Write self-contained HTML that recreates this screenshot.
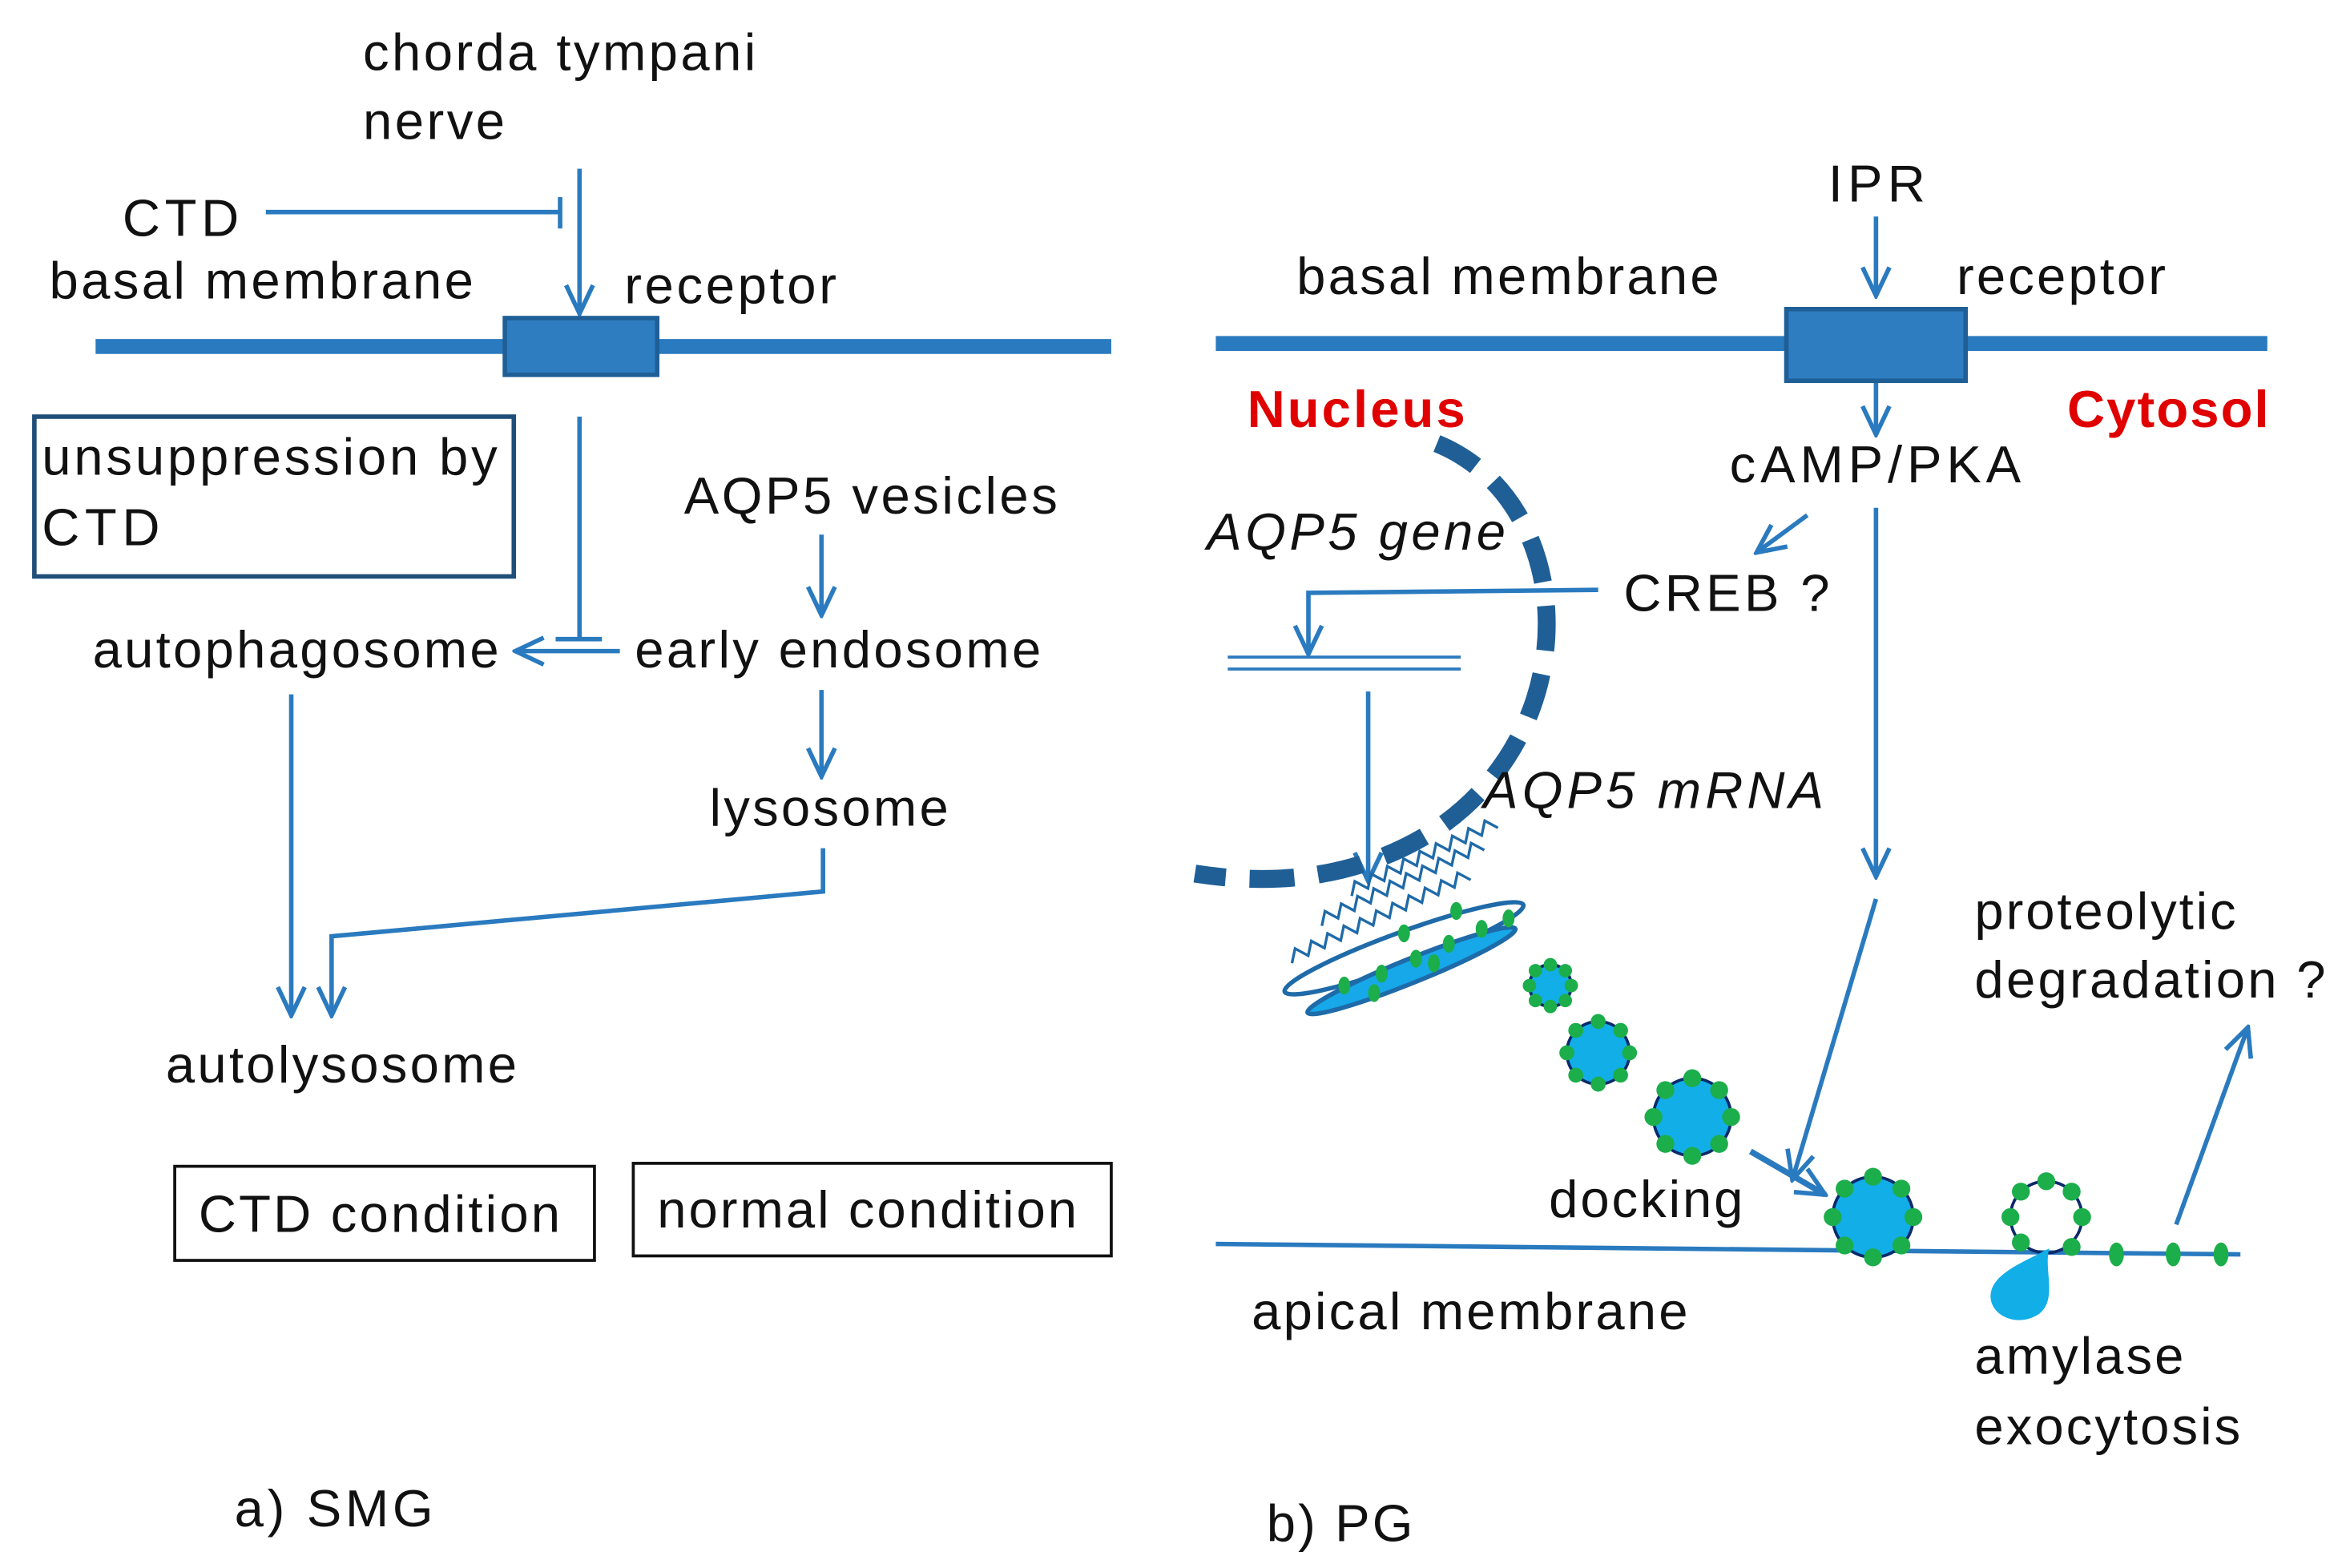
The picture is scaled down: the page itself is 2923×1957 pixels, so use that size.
<!DOCTYPE html>
<html><head><meta charset="utf-8"><style>
html,body{margin:0;padding:0;background:#fff}
svg{display:block}
text{font-family:"Liberation Sans",sans-serif;font-size:35px;fill:#111}
</style></head><body>
<svg width="2923" height="1957" viewBox="0 0 1568 1050" preserveAspectRatio="none" xmlns="http://www.w3.org/2000/svg">
<defs>
<marker id="b" markerWidth="22" markerHeight="22" refX="20" refY="11" orient="auto" markerUnits="userSpaceOnUse" viewBox="0 0 22 22">
<path d="M1,2 L20,11 L1,20" fill="none" stroke="#2a7abf" stroke-width="3"/></marker>
</defs>
<g stroke="#2a7abf" stroke-width="3" fill="none">
<line x1="178" y1="142" x2="375" y2="142"/><line x1="375" y1="132" x2="375" y2="153"/>
<line x1="388" y1="113" x2="388" y2="210" marker-end="url(#b)"/>
<line x1="388" y1="279" x2="388" y2="428"/><line x1="372" y1="428" x2="403" y2="428"/>
<line x1="415" y1="436" x2="345" y2="436" marker-end="url(#b)"/>
<line x1="550" y1="358" x2="550" y2="412" marker-end="url(#b)"/>
<line x1="550" y1="462" x2="550" y2="520" marker-end="url(#b)"/>
<polyline points="551,568 551,597 222,627 222,680" marker-end="url(#b)"/>
<line x1="195" y1="465" x2="195" y2="680" marker-end="url(#b)"/>
<line x1="1256" y1="145" x2="1256" y2="198" marker-end="url(#b)"/>
<line x1="1256" y1="255" x2="1256" y2="291" marker-end="url(#b)"/>
<line x1="1210" y1="345" x2="1176" y2="370" marker-end="url(#b)"/>
<polyline points="1070,395 876,397 876,438" marker-end="url(#b)"/>
<line x1="822" y1="440" x2="978" y2="440" stroke-width="2"/><line x1="822" y1="448" x2="978" y2="448" stroke-width="2"/>
<line x1="916" y1="463" x2="916" y2="590" marker-end="url(#b)"/>
<line x1="1256" y1="340" x2="1256" y2="587" marker-end="url(#b)"/>
<line x1="1256" y1="602" x2="1200" y2="790" marker-end="url(#b)"/>
<line x1="1172" y1="771" x2="1222" y2="800" stroke-width="4" marker-end="url(#b)"/>
<line x1="1457" y1="820" x2="1505" y2="688" marker-end="url(#b)"/>
<line x1="814" y1="833" x2="1500" y2="840" stroke-width="3"/>
</g>
<line x1="64" y1="232" x2="744" y2="232" stroke="#2a7abf" stroke-width="10"/>
<rect x="338" y="213" width="102" height="38" fill="#2e7dc0" stroke="#1f5f96" stroke-width="3"/>
<line x1="814" y1="230" x2="1518" y2="230" stroke="#2a7abf" stroke-width="10"/>
<rect x="1196" y="207" width="120" height="48" fill="#2e7dc0" stroke="#1f5f96" stroke-width="3"/>
<rect x="23" y="279" width="321" height="107" fill="none" stroke="#1f4e79" stroke-width="3"/>
<rect x="117" y="781" width="281" height="63" fill="none" stroke="#111" stroke-width="2"/>
<rect x="424" y="779" width="320" height="62" fill="none" stroke="#111" stroke-width="2"/>
<path d="M962 297 C1055 335 1065 485 962 555 C905 592 845 592 800 585" fill="none" stroke="#1f5f96" stroke-width="12" stroke-dasharray="30 16"/>
<g fill="none" stroke="#1f6aa8" stroke-width="3">
<ellipse cx="940" cy="635" rx="85" ry="11" transform="rotate(-20 940 635)"/>
<ellipse cx="945" cy="650" rx="75" ry="8" transform="rotate(-22 945 650)" fill="#16a8e8"/>
<path d="M865 645 l6 -8 l6 8 l6 -8 l6 8 l6 -8 l6 8 l6 -8 l6 8 l6 -8 l6 8 l6 -8 l6 8 l6 -8 l6 8 l6 -8 l6 8 l6 -8 l6 8 l6 -8 l6 8 l6 -8 l6 8" transform="rotate(-25 865 645)" stroke-width="1.8"/>
<path d="M885 620 l6 -8 l6 8 l6 -8 l6 8 l6 -8 l6 8 l6 -8 l6 8 l6 -8 l6 8 l6 -8 l6 8 l6 -8 l6 8 l6 -8 l6 8 l6 -8 l6 8 l6 -8 l6 8" transform="rotate(-25 885 620)" stroke-width="1.8"/>
<path d="M905 600 l6 -8 l6 8 l6 -8 l6 8 l6 -8 l6 8 l6 -8 l6 8 l6 -8 l6 8 l6 -8 l6 8 l6 -8 l6 8 l6 -8 l6 8 l6 -8 l6 8" transform="rotate(-25 905 600)" stroke-width="1.8"/>
</g>
<g fill="#1cae4a">
<ellipse cx="900" cy="660" rx="4" ry="6"/><ellipse cx="925" cy="652" rx="4" ry="6"/><ellipse cx="948" cy="642" rx="4" ry="6"/><ellipse cx="970" cy="632" rx="4" ry="6"/><ellipse cx="992" cy="622" rx="4" ry="6"/><ellipse cx="1010" cy="615" rx="4" ry="6"/><ellipse cx="920" cy="665" rx="4" ry="6"/><ellipse cx="960" cy="645" rx="4" ry="6"/><ellipse cx="940" cy="625" rx="4" ry="6"/><ellipse cx="975" cy="610" rx="4" ry="6"/>
</g>
<g stroke="#0b2a6b" stroke-width="2" fill="#11aee8">
<circle cx="1038" cy="660" r="14"/><circle cx="1070" cy="705" r="21"/><circle cx="1133" cy="748" r="26"/><circle cx="1254" cy="815" r="27"/>
<circle cx="1370" cy="815" r="24" fill="none"/>
</g>
<g fill="#1cae4a">
<circle cx="1038" cy="646" r="4.5"/><circle cx="1038" cy="674" r="4.5"/><circle cx="1024" cy="660" r="4.5"/><circle cx="1052" cy="660" r="4.5"/><circle cx="1028" cy="650" r="4.5"/><circle cx="1048" cy="650" r="4.5"/><circle cx="1028" cy="670" r="4.5"/><circle cx="1048" cy="670" r="4.5"/>
<circle cx="1070" cy="684" r="5"/><circle cx="1070" cy="726" r="5"/><circle cx="1049" cy="705" r="5"/><circle cx="1091" cy="705" r="5"/><circle cx="1055" cy="690" r="5"/><circle cx="1085" cy="690" r="5"/><circle cx="1055" cy="720" r="5"/><circle cx="1085" cy="720" r="5"/>
<circle cx="1133" cy="722" r="6"/><circle cx="1133" cy="774" r="6"/><circle cx="1107" cy="748" r="6"/><circle cx="1159" cy="748" r="6"/><circle cx="1115" cy="730" r="6"/><circle cx="1151" cy="730" r="6"/><circle cx="1115" cy="766" r="6"/><circle cx="1151" cy="766" r="6"/>
<circle cx="1254" cy="788" r="6"/><circle cx="1254" cy="842" r="6"/><circle cx="1227" cy="815" r="6"/><circle cx="1281" cy="815" r="6"/><circle cx="1235" cy="796" r="6"/><circle cx="1273" cy="796" r="6"/><circle cx="1235" cy="834" r="6"/><circle cx="1273" cy="834" r="6"/>
<circle cx="1370" cy="791" r="6"/><circle cx="1346" cy="815" r="6"/><circle cx="1394" cy="815" r="6"/><circle cx="1353" cy="798" r="6"/><circle cx="1387" cy="798" r="6"/><circle cx="1353" cy="832" r="6"/><circle cx="1387" cy="835" r="6"/>
<ellipse cx="1417" cy="840" rx="5" ry="8"/><ellipse cx="1455" cy="840" rx="5" ry="8"/><ellipse cx="1487" cy="840" rx="5" ry="8"/>
</g>
<path d="M1372 836 C1368 850 1378 870 1365 880 C1350 890 1330 880 1333 865 C1336 852 1355 845 1372 836 Z" fill="#11aee8"/>
<g lengthAdjust="spacingAndGlyphs">
<text x="243" y="47" textLength="263">chorda tympani</text>
<text x="243" y="93" textLength="95">nerve</text>
<text x="82" y="158" textLength="78">CTD</text>
<text x="33" y="200" textLength="284">basal membrane</text>
<text x="418" y="203" textLength="142">receptor</text>
<text x="28" y="318" textLength="305">unsuppression by</text>
<text x="28" y="365" textLength="79">CTD</text>
<text x="458" y="344" textLength="250">AQP5 vesicles</text>
<text x="62" y="447" textLength="272">autophagosome</text>
<text x="425" y="447" textLength="272">early endosome</text>
<text x="475" y="553" textLength="160">lysosome</text>
<text x="111" y="725" textLength="235">autolysosome</text>
<text x="133" y="825" textLength="242">CTD condition</text>
<text x="440" y="822" textLength="281">normal condition</text>
<text x="157" y="1022" textLength="133">a) SMG</text>
<text x="1224" y="135" textLength="65">IPR</text>
<text x="868" y="197" textLength="283">basal membrane</text>
<text x="1310" y="197" textLength="140">receptor</text>
<text x="835" y="286" textLength="146" style="fill:#e00000;font-weight:bold">Nucleus</text>
<text x="1384" y="286" textLength="135" style="fill:#e00000;font-weight:bold">Cytosol</text>
<text x="1158" y="323" textLength="195">cAMP/PKA</text>
<text x="808" y="368" textLength="200" font-style="italic">AQP5 gene</text>
<text x="1087" y="409" textLength="138">CREB ?</text>
<text x="993" y="541" textLength="228" font-style="italic">AQP5 mRNA</text>
<text x="1322" y="622" textLength="175">proteolytic</text>
<text x="1322" y="668" textLength="235">degradation ?</text>
<text x="1037" y="815" textLength="130">docking</text>
<text x="838" y="890" textLength="292">apical membrane</text>
<text x="1322" y="920" textLength="140">amylase</text>
<text x="1322" y="967" textLength="178">exocytosis</text>
<text x="848" y="1032" textLength="98">b) PG</text>
</g>
</svg>
</body></html>
